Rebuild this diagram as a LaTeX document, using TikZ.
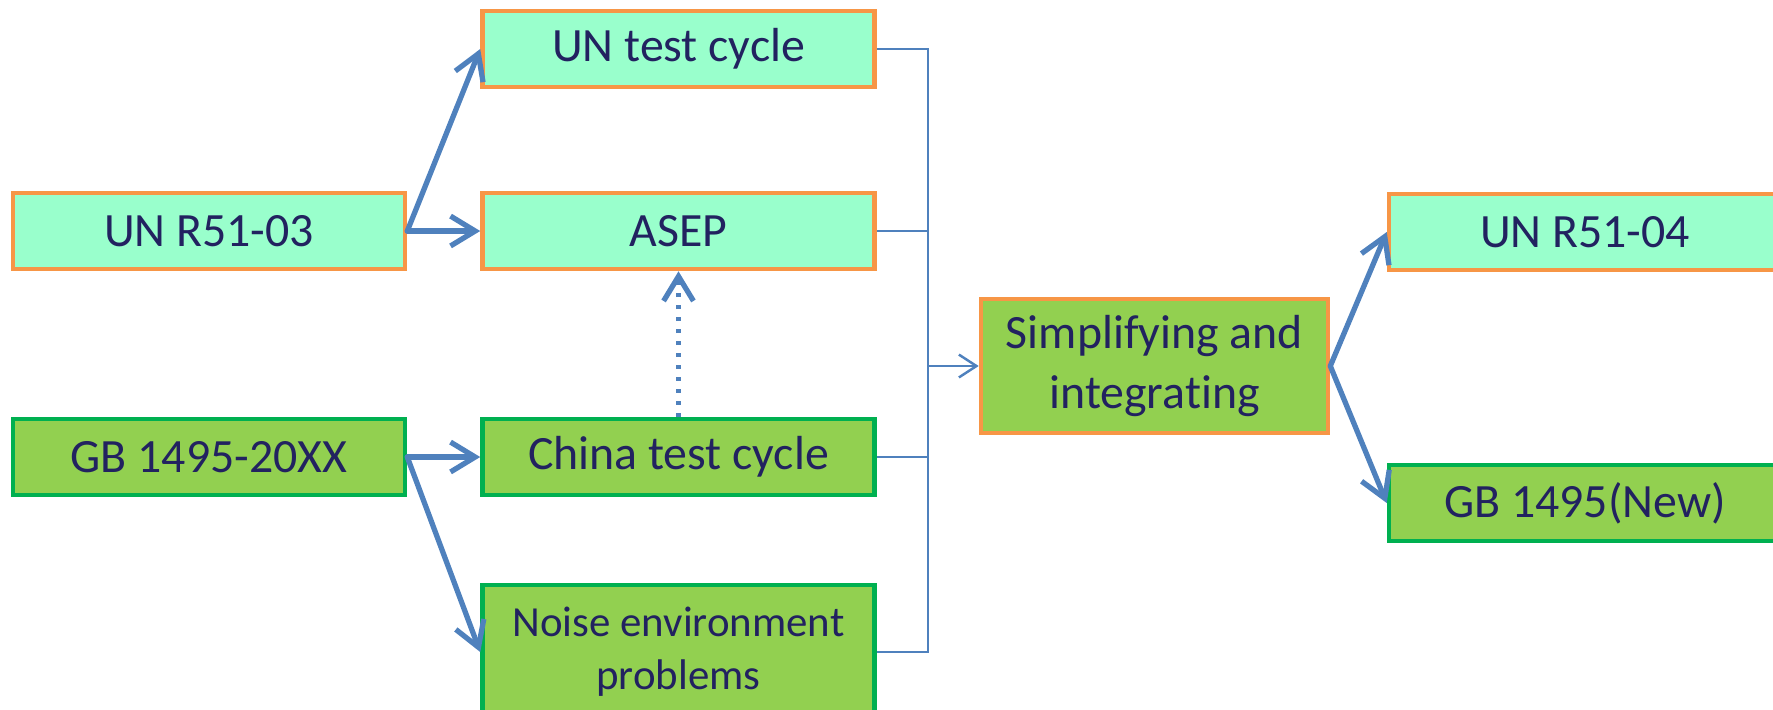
\documentclass[tikz,border=0pt]{standalone}
\usepackage{fontspec}
\setmainfont{Carlito}[Ligatures=NoCommon]
\usetikzlibrary{arrows.meta}

\definecolor{mint}{RGB}{153,255,204}
\definecolor{grass}{RGB}{146,208,80}
\definecolor{rim}{RGB}{247,150,70}
\definecolor{leaf}{RGB}{0,176,80}
\definecolor{flow}{RGB}{79,129,189}
\definecolor{ink}{RGB}{34,34,96}

\tikzset{
  box/.style={rectangle, line width=1.3pt, minimum width=3.92cm, minimum height=0.76cm,
    text=ink, font=\fontsize{13.6}{17}\selectfont, align=center, inner sep=0pt},
  unbox/.style={box, draw=rim, fill=mint},
  cnbox/.style={box, draw=leaf, fill=grass},
  link/.style={draw=flow, line width=1.5pt, line cap=round, line join=round,
    -{Straight Barb[length=7pt,width=8.5pt,line width=1.5pt]}},
  bus/.style={draw=flow, line width=0.7pt},
  busarrow/.style={bus, -{Straight Barb[length=5pt,width=6.5pt,line width=0.7pt]}},
  hint/.style={link, line cap=butt, dash pattern=on 1.2pt off 2.2pt}
}

\begin{document}
\begin{tikzpicture}
        \clip (0,0) rectangle (17.73,-7.09);
        % left column
        \node[unbox] (un03) at (2.09,-2.31) {UN R51-03};
        \node[cnbox] (gb20) at (2.09,-4.57) {GB 1495-20XX};
        % middle column
        \node[unbox] (untc) at (6.785,-0.49) {UN test cycle};
        \node[unbox] (asep) at (6.785,-2.31) {ASEP};
        \node[cnbox] (china) at (6.785,-4.57) {China test cycle};
        \node[cnbox, minimum height=1.34cm, font=\fontsize{12.2}{15}\selectfont] (noise) at (6.785,-6.52) {Noise environment\\problems};
        % merge and results
        \node[box, draw=rim, fill=grass, minimum width=3.47cm, minimum height=1.34cm] (simp) at (11.545,-3.66) {Simplifying and\\integrating};
        \node[unbox] (un04) at (15.85,-2.32) {UN R51-04};
        \node[cnbox] (gbnew) at (15.85,-5.03) {GB 1495(New)};
        \coordinate (jn) at (9.28,-3.66);

        \draw[link] (un03.east) -- (untc.west);
        \draw[link] (un03.east) -- (asep.west);
        \draw[link] (gb20.east) -- (china.west);
        \draw[link] (gb20.east) -- (noise.west);
        \draw[hint] (china.north) -- (asep.south);

        \draw[bus] (untc.east) -| (jn);
        \draw[bus] (noise.east) -| (jn);
        \draw[bus] (asep.east) -- (asep.east -| jn);
        \draw[bus] (china.east) -- (china.east -| jn);
        \draw[busarrow] (jn) -- (simp.west);

        \draw[link] (simp.east) -- (un04.west);
        \draw[link] (simp.east) -- (gbnew.west);
\end{tikzpicture}
\end{document}
